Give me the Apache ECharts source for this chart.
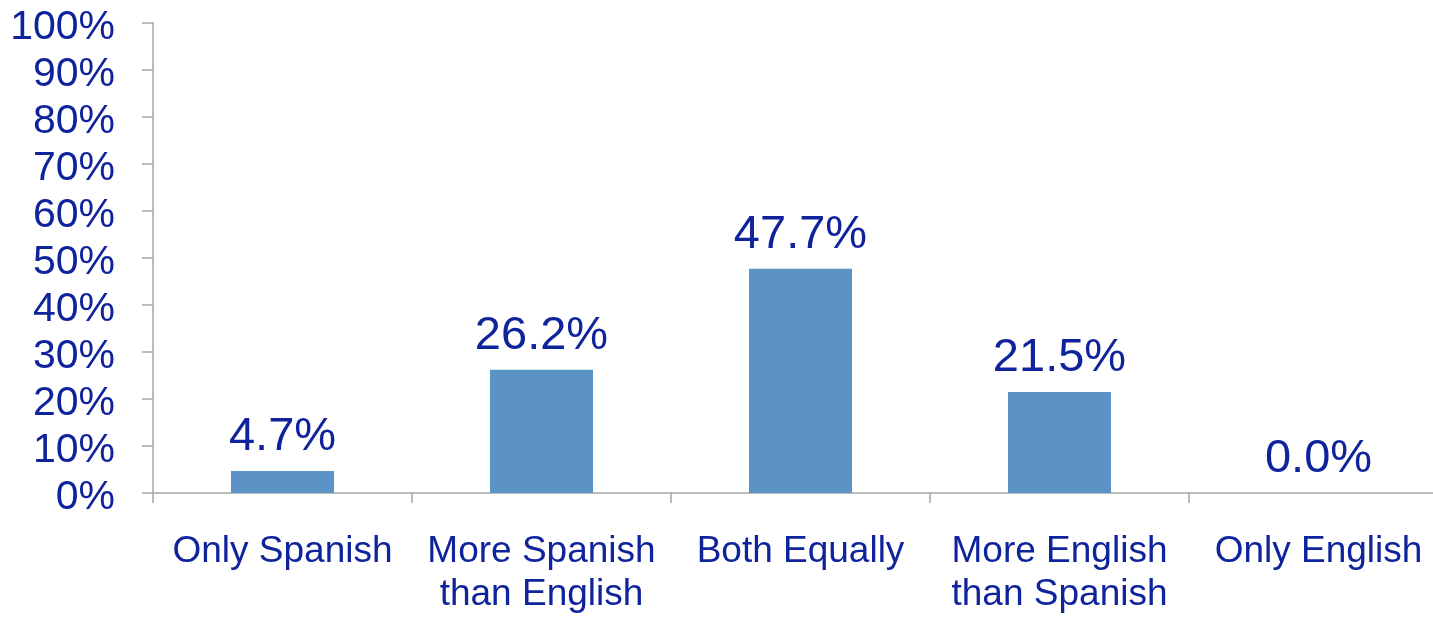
<!DOCTYPE html>
<html>
<head>
<meta charset="utf-8">
<script src="https://cdn.jsdelivr.net/npm/echarts@6/dist/echarts.min.js"></script>
<style>
  html, body { margin: 0; padding: 0; background: #fff; overflow: hidden; }
  #chart { width: 1448px; height: 617px; }
</style>
</head>
<body>
<div id="chart"></div>
<script>
// categories and values
const categories = ['Only Spanish', 'More Spanish\nthan English', 'Both Equally', 'More English\nthan Spanish', 'Only English'];
const shares = [0.047, 0.262, 0.477, 0.215, 0.0];
const yTicks = [0, 0.1, 0.2, 0.3, 0.4, 0.5, 0.6, 0.7, 0.8, 0.9, 1];

const textColor = '#0f239c';
const axisColor = '#a6a6a6';
const font = '"Liberation Sans", Arial, sans-serif';

// the plot runs a little past the right edge of the window, like the original
const chart = echarts.init(document.getElementById('chart'));
chart.setOption({
  backgroundColor: '#fff',
  animation: false,
  grid: { left: 153, top: 23, bottom: 124, right: 0, containLabel: false },
  xAxis: {
    type: 'category',
    data: categories,
    axisLine: { lineStyle: { color: axisColor, width: 1.5 } },
    axisTick: { show: true, length: 10, alignWithLabel: false, lineStyle: { color: axisColor, width: 1.5 } },
    axisLabel: {
      color: textColor, fontSize: 37, fontFamily: font, margin: 37,
      lineHeight: 43, interval: 0
    }
  },
  yAxis: {
    type: 'value',
    min: yTicks[0],
    max: yTicks[yTicks.length - 1],
    interval: 0.1,
    splitLine: { show: false },
    axisLine: { show: true, lineStyle: { color: axisColor, width: 1.5 } },
    axisTick: { show: true, length: 11, lineStyle: { color: axisColor, width: 1.5 } },
    axisLabel: {
      margin: 38,
      formatter: v => '{p|' + Math.round(v * 100) + '%}',
      rich: {
        p: { color: textColor, fontSize: 41, fontFamily: font, padding: [10, 0, 0, 0] }
      }
    }
  },
  series: [{
    type: 'bar',
    data: shares,
    barWidth: 103,
    itemStyle: { color: '#5b93c6' },
    label: {
      show: true,
      position: 'top',
      distance: 10,
      color: textColor,
      fontSize: 47,
      fontFamily: font,
      formatter: p => (p.value * 100).toFixed(1) + '%'
    }
  }]
});
</script>
</body>
</html>
